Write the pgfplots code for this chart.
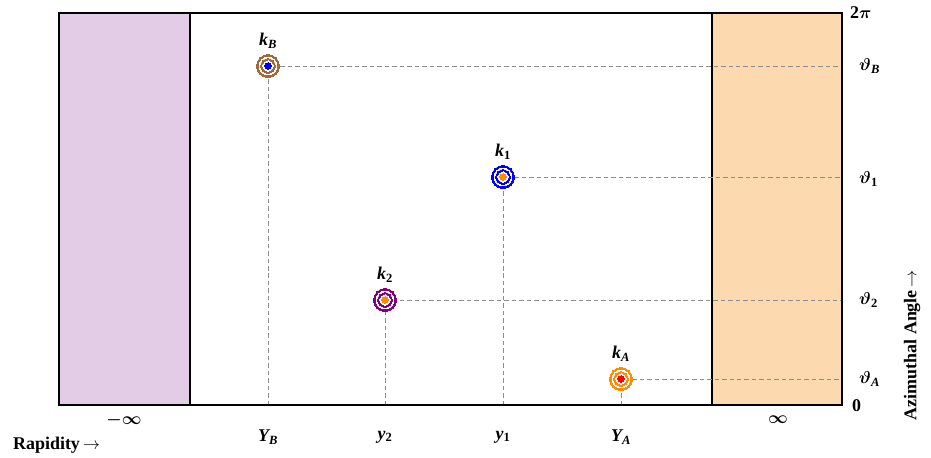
\documentclass[border=0pt]{standalone}
\usepackage{fontspec}
\setmainfont{Liberation Serif}
\usepackage{amsmath,bm}
\usepackage{pgfplots}
\usepackage{pgfplotstable}
\pgfplotsset{compat=1.18}
\definecolor{pinkr}{RGB}{227,204,229}
\definecolor{orgr}{RGB}{252,217,174}
\definecolor{brownc}{RGB}{160,105,55}
\definecolor{purplec}{RGB}{128,0,128}
\definecolor{orangec}{RGB}{255,140,0}
\newcommand{\target}[4]{%
\addplot[only marks, mark=*, mark size=11.5, color=#3, mark options={line width=0pt}] coordinates {(#1,#2)};
\addplot[only marks, mark=*, mark size=9.0, color=white, mark options={line width=0pt}] coordinates {(#1,#2)};
\addplot[only marks, mark=*, mark size=7.3, color=#3, mark options={line width=0pt}] coordinates {(#1,#2)};
\addplot[only marks, mark=*, mark size=5.1, color=white, mark options={line width=0pt}] coordinates {(#1,#2)};
\addplot[only marks, mark=*, mark size=3.4, color=#4, mark options={line width=0pt}] coordinates {(#1,#2)};
}
\newcommand{\guide}[2]{%
\addplot[color={rgb,255:red,140;green,140;blue,140}, dash pattern=on 4.5pt off 3pt, line width=0.9pt] coordinates {(#1,0) (#1,#2) (783,#2)};
}
\newcommand{\arr}{\,{\fontsize{17}{20}\selectfont$\rightarrow$}}
\newcommand{\lab}[2]{{\itshape #1\textsubscript{#2}}}
\begin{document}
\begin{tikzpicture}[font=\fontsize{18}{21}\selectfont\bfseries]
\begin{axis}[
  scale only axis, width=783bp, height=392bp,
  xmin=0, xmax=783, ymin=0, ymax=392,
  axis line style={line width=1.4pt},
  xtick=\empty, ytick=\empty,
  clip=false, axis on top,
]
\addplot[fill=pinkr, draw=black, line width=1.2pt] coordinates {(0,392) (131,392)} \closedcycle;
\addplot[fill=orgr, draw=black, line width=1.2pt] coordinates {(653,392) (783,392)} \closedcycle;
\guide{209}{339}
\guide{444}{228}
\guide{326}{105}
\guide{562}{26}
\target{209}{339}{brownc}{blue}
\target{444}{228}{blue}{orangec}
\target{326}{105}{purplec}{orangec}
\target{562}{26}{orangec}{red}
\node at (axis cs:209,339) [yshift=25bp] {\lab{k}{B}};
\node at (axis cs:444,228) [yshift=25bp] {\lab{k}{\upshape 1}};
\node at (axis cs:326,105) [yshift=25bp] {\lab{k}{\upshape 2}};
\node at (axis cs:562,26) [yshift=25bp] {\lab{k}{A}};
\node at (axis cs:65,-15) {$\bm{-\infty}$};
\node at (axis cs:719,-15) {$\bm{\infty}$};
\node at (axis cs:209,-32) {\lab{Y}{B}};
\node at (axis cs:326,-32) {\lab{y}{\upshape 2}};
\node at (axis cs:444,-32) {\lab{y}{\upshape 1}};
\node at (axis cs:562,-32) {\lab{Y}{A}};
\node[anchor=west, inner sep=1pt] at (axis cs:790,392) {2$\bm{\pi}$};
\node[anchor=west, inner sep=1pt] at (axis cs:799,339) {$\bm{\vartheta}$\textsubscript{\itshape B}};
\node[anchor=west, inner sep=1pt] at (axis cs:799,226) {$\bm{\vartheta}$\textsubscript{1}};
\node[anchor=west, inner sep=1pt] at (axis cs:799,105) {$\bm{\vartheta}$\textsubscript{2}};
\node[anchor=west, inner sep=1pt] at (axis cs:799,26) {$\bm{\vartheta}$\textsubscript{\itshape A}};
\node[anchor=west, inner sep=1pt] at (axis cs:792,-1) {0};
\node[anchor=west, inner sep=1pt] at (axis cs:-47,-40) {Rapidity\arr};
\node[rotate=90] at (axis cs:853,60) {Azimuthal Angle\arr};
\path (axis cs:-59,-53) rectangle (axis cs:872,405);
\end{axis}
\end{tikzpicture}
\end{document}
